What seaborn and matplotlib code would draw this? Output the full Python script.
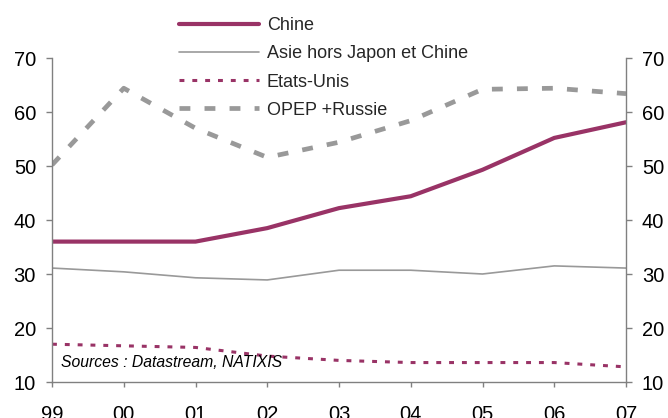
import matplotlib
matplotlib.use("Agg")
import matplotlib.pyplot as plt
import seaborn as sns
import pandas as pd

# Years on the horizontal axis
years = ["99", "00", "01", "02", "03", "04", "05", "06", "07"]

# Series values (%)
chine = [36.0, 36.0, 36.0, 38.5, 42.2, 44.4, 49.3, 55.2, 58.1]
asie = [31.1, 30.4, 29.3, 28.9, 30.7, 30.7, 30.0, 31.5, 31.1]
etats_unis = [17.0, 16.7, 16.4, 14.8, 14.0, 13.6, 13.6, 13.6, 12.8]
opep = [50.2, 64.4, 57.0, 51.6, 54.4, 58.4, 64.2, 64.4, 63.4]

labels = ["Chine", "Asie hors Japon et Chine", "Etats-Unis", "OPEP +Russie"]
yticks = [10, 20, 30, 40, 50, 60, 70]

sns.set_theme(style="white")
plt.rcParams["font.family"] = ["Liberation Sans", "DejaVu Sans"]

plum = "#993366"
grey = "#999999"
axis_col = "#808080"

fig = plt.figure(figsize=(6.68, 4.18), dpi=100)
ax = fig.add_axes([52 / 668, 1 - 382 / 418, (626 - 52) / 668, (382 - 58) / 418])

x = list(range(len(years)))
df = pd.DataFrame({"x": x, "chine": chine, "asie": asie,
                   "eu": etats_unis, "opep": opep})

sns.lineplot(data=df, x="x", y="opep", ax=ax, color=grey, lw=3.4,
             linestyle=(0, (2.3, 3.0)), label=labels[3])
sns.lineplot(data=df, x="x", y="eu", ax=ax, color=plum, lw=2.2,
             linestyle=(0, (1.6, 2.6)), label=labels[2])
sns.lineplot(data=df, x="x", y="asie", ax=ax, color=grey, lw=1.2,
             label=labels[1])
sns.lineplot(data=df, x="x", y="chine", ax=ax, color=plum, lw=3.0,
             label=labels[0])

ax.set_xlim(0, len(years) - 1)
ax.set_ylim(10, 70)
ax.set_xticks(x)
ax.set_xticklabels(years)
ax.set_yticks(yticks)
ax.set_xlabel("")
ax.set_ylabel("")

for side in ["top"]:
    ax.spines[side].set_visible(False)
for side in ["left", "right", "bottom"]:
    ax.spines[side].set_visible(True)
    ax.spines[side].set_color(axis_col)
    ax.spines[side].set_linewidth(1.0)

ax.tick_params(axis="y", which="both", left=True, right=True,
               labelleft=True, labelright=True, length=4.5, width=1.0,
               color=axis_col, labelsize=14.5, pad=7, labelcolor="black")
ax.tick_params(axis="x", bottom=True, length=3.5, width=1.0,
               color=axis_col, labelsize=14.5, pad=13, labelcolor="black")

ax.text(0.125, 13.7, "Sources : Datastream, NATIXIS", style="italic",
        fontsize=11.3, va="center", ha="left", color="black")

handles, labs = ax.get_legend_handles_labels()
order = [labs.index(l) for l in labels]
ax.legend_.remove() if ax.legend_ else None
fig.legend([handles[i] for i in order], [labs[i] for i in order],
           loc="upper left", bbox_to_anchor=(172 / 668, 1 - 10 / 418),
           frameon=False, fontsize=13, handlelength=4.4,
           handletextpad=0.45, labelspacing=0.62, borderaxespad=0)

fig.savefig("out.png", dpi=100)
